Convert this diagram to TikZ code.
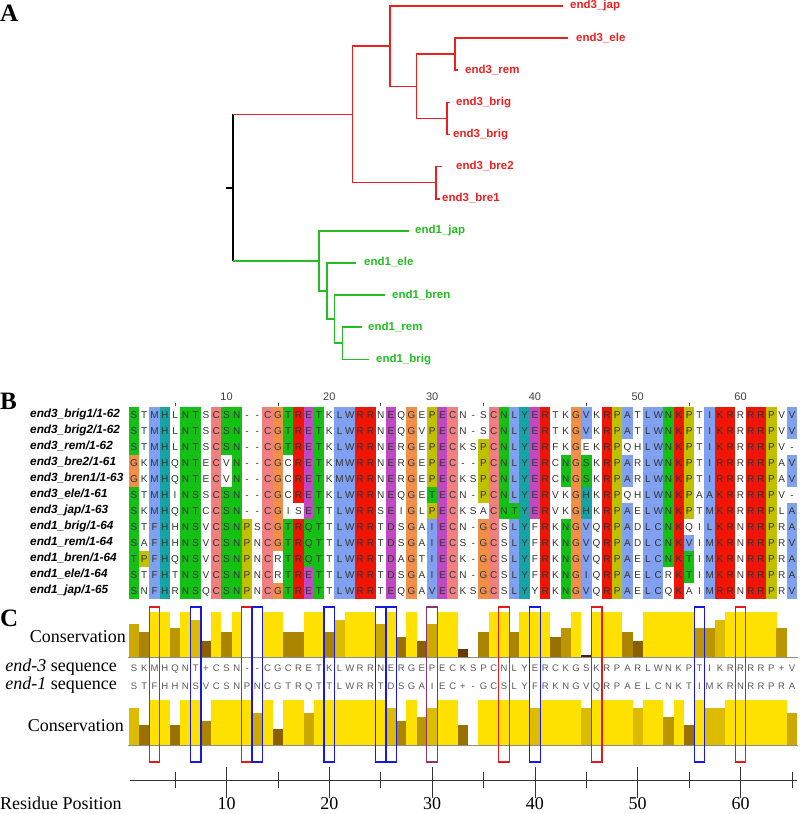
\documentclass[tikz,border=0pt]{standalone}
\usepackage{fontspec}
\setmainfont{Liberation Serif}
\setsansfont{Liberation Sans}
\usepackage{xstring}
\usetikzlibrary{positioning}

\definecolor{treered}{RGB}{236,32,32}
\definecolor{treegreen}{RGB}{36,190,36}
\definecolor{clxb}{RGB}{128,160,240}
\definecolor{clxr}{RGB}{240,21,5}
\definecolor{clxm}{RGB}{192,72,192}
\definecolor{clxg}{RGB}{21,192,21}
\definecolor{clxp}{RGB}{240,128,128}
\definecolor{clxo}{RGB}{240,144,72}
\definecolor{clxy}{RGB}{192,192,0}
\definecolor{clxc}{RGB}{21,164,164}
\definecolor{consyel}{RGB}{255,225,0}
\definecolor{consbrn}{RGB}{70,20,0}
\definecolor{boxred}{RGB}{232,24,24}
\definecolor{boxblue}{RGB}{24,24,228}
\definecolor{boxpurple}{RGB}{140,52,112}

\tikzset{
  branch/.style={line width=1.6pt},
  leaflabel/.style={anchor=west, inner sep=0pt, text height=8.3pt, text depth=2.4pt,
    font=\sffamily\bfseries\fontsize{11.5}{12}\selectfont},
  panel/.style={anchor=base west, inner sep=0pt, font=\bfseries\fontsize{25}{25}\selectfont},
  seqname/.style={anchor=west, inner sep=0pt, text height=8.4pt, text depth=2.2pt,
    font=\sffamily\bfseries\itshape\fontsize{11.8}{12}\selectfont},
  res/.style={inner sep=0pt, text height=7.2pt, text depth=0pt, text=black!80,
    font=\sffamily\fontsize{10}{10}\selectfont},
  consres/.style={inner sep=0pt, text height=6.8pt, text depth=0pt, text=black!65,
    font=\sffamily\fontsize{9.5}{9.5}\selectfont},
  ruler/.style={inner sep=0pt, anchor=base, text=black!75, font=\sffamily\fontsize{11}{11}\selectfont},
  sidelabel/.style={anchor=base east, inner sep=0pt, font=\fontsize{18}{18}\selectfont},
  axislabel/.style={anchor=base, inner sep=0pt, font=\fontsize{18}{18}\selectfont},
  axisline/.style={line width=0.8pt, black!80},
  baseline/.style={line width=0.6pt, black!45},
  colbox/.style={line width=1.2pt},
}

% x position of alignment column #1
\newcommand\colx[1]{(134+(#1-1)*10.28)}

% one row of the alignment: row, name, residues, colour codes (w = none)
\newcommand\alnrow[4]{%
  \pgfmathsetmacro\rowy{414.7+16*(#1-1)}
  \node[seqname] (name#1) at (30,\rowy) {#2};
  \foreach \c in {1,...,65}{
    \StrChar{#4}{\c}[\cellcol]
    \StrChar{#3}{\c}[\cellres]
    \IfStrEq{\cellcol}{w}{}{\fill[fill=clx\cellcol] ({\colx{\c}-5.2},{\rowy-8}) rectangle ({\colx{\c}+5.2},{\rowy+8});}
    \node[res] (a#1-\c) at ({\colx{\c}},\rowy) {\cellres};
  }
}

\def\seqendthree{SKMHQNT+CSN--CGCRETKLWRRNERGEPECKSPCNLYERCKGSKRPARLWNKPTIKRRRRP+V}
\def\seqendone{STFHHNSVCSNPNCGTRQTTLWRRTDSGAIEC+-GCSLYFRKNGVQRPAELCNKTIMKRNRRPRA}

\begin{document}
\begin{tikzpicture}[x=1pt,y=-1pt]
\useasboundingbox (0,0) rectangle (800,814);

% panel letters
\node[panel] (pA) at (0,21) {A};
\node[panel] (pB) at (0,409) {B};
\node[panel] (pC) at (0,626) {C};

% ---- A: tree
\coordinate (stub) at (225.6,187.7);
\coordinate (root) at (233,187.7);
\coordinate (R0) at (352.3,114.4);
\coordinate (Ra) at (389.7,46.15);
\coordinate (Rc) at (416.4,86.3);
\coordinate (Rd) at (454.9,54.18);
\coordinate (Re) at (447.2,118.42);
\coordinate (Rb) at (435.9,182.66);
\coordinate (G0) at (319,260.95);
\coordinate (Ga) at (327.2,291.07);
\coordinate (Gb) at (334.4,319.17);
\coordinate (Gc) at (342.6,343.26);
\coordinate (t1) at (562.6,6);
\coordinate (t2) at (568.2,38.12);
\coordinate (t3) at (458,70.24);
\coordinate (t4) at (449.7,102.36);
\coordinate (t5) at (449.7,134.48);
\coordinate (t6) at (442,166.6);
\coordinate (t7) at (439.5,198.72);
\coordinate (t8) at (408.7,230.84);
\coordinate (t9) at (356.4,262.96);
\coordinate (t10) at (384.6,295.08);
\coordinate (t11) at (361.5,327.2);
\coordinate (t12) at (369.2,359.32);

\draw[branch] (stub) -- (root);
\draw[branch] (root |- R0) -- (root |- G0);
\draw[branch, treered] (root |- R0) -- (R0);
\draw[branch, treegreen] (root |- G0) -- (G0);
\draw[branch, treered] (R0) |- (Ra) (R0) |- (Rb) (Ra) |- (t1) (Ra) |- (Rc)
  (Rc) |- (Rd) (Rc) |- (Re) (Rd) |- (t2) (Rd) |- (t3) (Re) |- (t4) (Re) |- (t5)
  (Rb) |- (t6) (Rb) |- (t7);
\draw[branch, treegreen] (G0) |- (t8) (G0) |- (Ga) (Ga) |- (t9) (Ga) |- (Gb)
  (Gb) |- (t10) (Gb) |- (Gc) (Gc) |- (t11) (Gc) |- (t12);

\node[leaflabel, text=treered] (l1) at (570,6) {end3\_jap};
\node[leaflabel, text=treered] (l2) at (576,38.12) {end3\_ele};
\node[leaflabel, text=treered] (l3) at (465,70.24) {end3\_rem};
\node[leaflabel, text=treered] (l4) at (456,102.36) {end3\_brig};
\node[leaflabel, text=treered] (l5) at (453,134.48) {end3\_brig};
\node[leaflabel, text=treered] (l6) at (456,166.6) {end3\_bre2};
\node[leaflabel, text=treered] (l7) at (442,198.72) {end3\_bre1};
\node[leaflabel, text=treegreen] (l8) at (415,230.84) {end1\_jap};
\node[leaflabel, text=treegreen] (l9) at (364,262.96) {end1\_ele};
\node[leaflabel, text=treegreen] (l10) at (392,295.08) {end1\_bren};
\node[leaflabel, text=treegreen] (l11) at (368,327.2) {end1\_rem};
\node[leaflabel, text=treegreen] (l12) at (376,359.32) {end1\_brig};

% ---- B: alignment
\foreach \c in {10,20,...,60}
  \node[ruler] (num\c) at ({\colx{\c}},400) {\c};
\foreach \c in {5,15,...,55}
  \draw[black!70, line width=0.8pt] ({\colx{\c}},402.5) -- ({\colx{\c}},405.5);

\alnrow{1}{end3\_brig1/1-62}{STMHLNTSCSN--CGTRETKLWRRNEQGEPECN-SCNLYERTKGVKRPATLWNKPTIKRRRRPVV}{gwbcwggwpggwwpogrmgwbbrrwmwowympwwwpgbcmrwwobwrybwbbgrywbrrwrrywb}
\alnrow{2}{end3\_brig2/1-62}{STMHLNTSCSN--CGTRETKLWRRNEQGVPECN-SCNLYERTKGVKRPATLWNKPTIKRRRRPVV}{gwbcwggwpggwwpogrmgwbbrrwmwowympwwwpgbcmrwwobwrybwbbgrywbrrwrrywb}
\alnrow{3}{end3\_rem/1-62}{STMHLNTSCSN--CGTRETKLWRRNERGEPECKSPCNLYERFKGEKRPQHLWNKPTIKRRRRPV-}{gwbcwggwpggwwpogrmgwbbrrwmwowympwwypgbcmrwwowwrywwbbgrywbrrwrryww}
\alnrow{4}{end3\_bre2/1-61}{GKMHQNTECVN--CGCRETKMWRRNERGEPEC--PCNLYERCNGSKRPARLWNKPTIRRRRRPAV}{owbcwggwpwgwwpowrmgwbbrrwmwowympwwypgbcmrwgogwrybwbbgrywbrrwrrywb}
\alnrow{5}{end3\_bren1/1-63}{GKMHQNTECVN--CGCRETKMWRRNERGEPECKSPCNLYERCNGSKRPARLWNKPTIRRRRRPAV}{owbcwggwpwgwwpowrmgwbbrrwmwowympwwypgbcmrwgogwrybwbbgrywbrrwrrywb}
\alnrow{6}{end3\_ele/1-61}{STMHINSSCSN--CGCRETKLWRRNEQGETECN-PCNLYERVKGHKRPQHLWNKPAAKRRRRPV-}{gwbcwggwpggwwpowrmgwbbrrwmwowgmpwwypgbcmrwwocwrywwbbgrywbrrwrryww}
\alnrow{7}{end3\_jap/1-63}{SKMHQNTCCSN--CGISETTLWRRSEIGLPECKSACNTYERVKGHKRPAELWNKPTMKRRRRPLA}{gwbcwggwpggwwpowwmgwbbrrwmwowympwwwpggcmrwwocwrybwbbgrywbrrwrrywb}
\alnrow{8}{end1\_brig/1-64}{STFHHNSVCSNPSCGTRQTTLWRRTDSGAIECN-GCSLYFRKNGVQRPADLCNKQILKRNRRPRA}{gwbcwggwpggywpogrggwbbrrwmwowbmpwwopwbcwrwgobwrybwbbgrwwbrrwrrywb}
\alnrow{9}{end1\_rem/1-64}{SAFHHNSVCSNPNCGTRQTTLWRRTDSGAIECS-GCSLYFRKNGVQRPADLCNKVIMKRNRRPRV}{gwbcwggwpggywpogrggwbbrrwmwowbmpwwopwbcwrwgobwrybwbbgrbwbrrwrrywb}
\alnrow{10}{end1\_bren/1-64}{TPFHQNSVCSNPNCRTRQTTLWRRTDAGTIECK-GCSLYFRKNGVQRPAELCNKTIMKRNRRPRA}{gybcwggwpggywpwgrggwbbrrwmwowbmpwwopwbcwrwgobwrybwbbgrgwbrrwrrywb}
\alnrow{11}{end1\_ele/1-64}{STFHTNSVCSNPNCRTRETTLWRRTDSGAIECN-GCSLYFRKNGIQRPAELCRKTIMKRNRRPRA}{gwbcwggwpggywpwgrmgwbbrrwmwowbmpwwopwbcwrwgobwrybwbbwrgwbrrwrrywb}
\alnrow{12}{end1\_jap/1-65}{SNFHRNSQCSNPNCGTRETTLWRRTEQGAVECKSGCSLYYRKNGVQRPAELCQKAIMRRNRRPRV}{gwbcwggwpggywpogrmgwbbrrwmwowbmpwwopwbcwrwgobwrybwbbwrwwbrrwrrywb}

% ---- C: conservation of the two groups
\foreach \c/\s in {1/8,2/6,3/11,4/11,5/7,6/11,7/9,8/4,9/11,10/6,11/11,14/11,15/11,16/6,17/6,
  18/11,19/11,20/6,21/9,22/11,23/11,24/11,25/8,26/11,27/5,28/11,29/4,30/8,31/11,32/11,33/2,
  35/6,36/11,37/11,38/6,39/11,40/11,41/11,42/5,43/7,44/11,45/0.5,46/11,47/11,48/11,49/6,50/4,
  51/11,52/11,53/11,54/11,55/11,56/7,57/7,58/9,59/11,60/11,61/11,62/11,63/11,64/7}{
  \pgfmathsetmacro\pct{100*\s/11}
  \fill[fill=consyel!\pct!consbrn] ({\colx{\c}-5.2},657.3) rectangle ({\colx{\c}+5.2},{657.3-45.6*\s/11});
}
\foreach \c/\s in {1/9,2/5,3/11,4/11,5/5,6/11,7/11,8/6,9/11,10/11,11/11,12/11,13/8,14/11,15/4,
  16/11,17/11,18/8,19/11,20/11,21/11,22/11,23/11,24/11,25/11,26/9,27/6,28/11,29/7,30/9,31/11,
  32/11,33/5,35/11,36/11,37/11,38/11,39/11,40/9,41/11,42/11,43/11,44/11,45/9,46/11,47/11,
  48/11,49/11,50/9,51/11,52/11,53/7,54/11,55/5,56/11,57/9,58/9,59/11,60/11,61/11,62/11,
  63/11,64/11,65/8}{
  \pgfmathsetmacro\pct{100*\s/11}
  \fill[fill=consyel!\pct!consbrn] ({\colx{\c}-5.2},745.7) rectangle ({\colx{\c}+5.2},{745.7-45.6*\s/11});
}
\draw[baseline] (128,657.3) -- (798,657.3);
\draw[baseline] (128,745.7) -- (798,745.7);

\foreach \c in {1,...,65}{
  \StrChar{\seqendthree}{\c}[\cellres]
  \node[consres] (e3-\c) at ({\colx{\c}},668.5) {\cellres};
  \StrChar{\seqendone}{\c}[\cellres]
  \node[consres] (e1-\c) at ({\colx{\c}},686.5) {\cellres};
}

\node[sidelabel] (cons3) at (126,642.7) {Conservation};
\node[sidelabel] (seq3) at (117,671.5) {\textit{end-3} sequence};
\node[sidelabel] (seq1) at (117,689.5) {\textit{end-1} sequence};
\node[sidelabel] (cons1) at (124,731.7) {Conservation};

% marked columns
\foreach \c/\bc in {3/boxred,7/boxblue,12/boxred,13/boxblue,20/boxblue,25/boxblue,26/boxblue,
  30/boxpurple,37/boxred,40/boxblue,46/boxred,56/boxblue,60/boxred}
  \draw[colbox, \bc] ({\colx{\c}-5.3},607) rectangle ({\colx{\c}+5.3},762);

% residue axis
\draw[axisline] (130,780) -- (797,780);
\foreach \c in {5,15,...,65}
  \draw[axisline] ({\colx{\c}},772) -- ({\colx{\c}},788);
\foreach \c in {10,20,...,60}{
  \draw[axisline] ({\colx{\c}},767) -- ({\colx{\c}},798);
  \node[axislabel] (pos\c) at ({\colx{\c}},809.5) {\c};
}
\node[anchor=base west, inner sep=0pt, font=\fontsize{18}{18}\selectfont] (respos) at (0,809.5) {Residue Position};
\end{tikzpicture}
\end{document}
